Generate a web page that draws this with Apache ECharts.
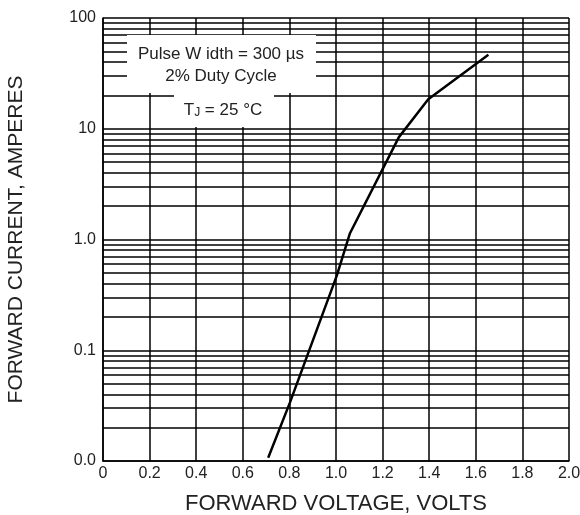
<!DOCTYPE html>
<html>
<head>
<meta charset="utf-8">
<script src="https://cdn.jsdelivr.net/npm/echarts@6/dist/echarts.min.js"></script>
<style>
html,body{margin:0;padding:0;background:#fff;}
#chart{width:580px;height:515px;}
</style>
</head>
<body>
<div id="chart"></div>
<script>
// ---- data ----
const voltage = [0.709, 0.803, 1.003, 1.06, 1.27, 1.396, 1.654];
const current = [0.0107, 0.034, 0.47, 1.14, 8.4, 18.5, 46.5];

const xTickValues = [0, 0.2, 0.4, 0.6, 0.8, 1.0, 1.2, 1.4, 1.6, 1.8, 2.0];
const xTickLabels = ['0', '0.2', '0.4', '0.6', '0.8', '1.0', '1.2', '1.4', '1.6', '1.8', '2.0'];
const yTickValues = [0.01, 0.1, 1, 10, 100];
const yTickLabels = ['0.0', '0.1', '1.0', '10', '100'];
const yDecades = [0.01, 0.1, 1, 10];
const yMinorMultipliers = [2, 3, 4, 5, 6, 7, 8, 9];

const noteLines = ['Pulse W idth = 300 \u00b5s', '2% Duty Cycle'];
const noteTemp = '{t|T}{s|J}{t| = 25 \u00b0C}';
const xTitle = 'FORWARD VOLTAGE, VOLTS';
const yTitle = 'FORWARD CURRENT, AMPERES';

// ---- build ----
const curve = voltage.map((v, i) => [v, current[i]]);
const minorGrid = [];
yDecades.forEach(d => yMinorMultipliers.forEach(m => minorGrid.push({ yAxis: +(d * m).toPrecision(3) })));

function lookup(values, labels, v) {
  for (let i = 0; i < values.length; i++) {
    if (Math.abs(values[i] - v) < 1e-6 * Math.max(1, Math.abs(v))) return labels[i];
  }
  return '';
}

const FONT = "'Liberation Sans', Arial, Helvetica, sans-serif";
const chart = echarts.init(document.getElementById('chart'), null, { renderer: 'canvas' });

chart.setOption({
  animation: false,
  backgroundColor: '#fff',
  textStyle: { fontFamily: FONT },
  grid: { left: 103, right: 11, top: 18, bottom: 54, containLabel: false, outerBoundsMode: 'none' },
  xAxis: {
    type: 'value', min: 0, max: 2, interval: 0.2,
    name: xTitle, nameLocation: 'middle', nameGap: 32,
    nameTextStyle: { fontSize: 22, color: '#222', fontFamily: FONT },
    axisLine: { show: true, lineStyle: { color: '#000', width: 1.5 } },
    axisTick: { show: false },
    splitLine: { show: true, lineStyle: { color: '#000', width: 1.5 } },
    axisLabel: {
      fontSize: 16, color: '#222', margin: 5, fontFamily: FONT,
      formatter: v => lookup(xTickValues, xTickLabels, v)
    }
  },
  yAxis: {
    type: 'log', logBase: 10, min: 0.01, max: 100,
    name: yTitle, nameLocation: 'middle', nameGap: 76, nameRotate: 90,
    nameTextStyle: { fontSize: 21, color: '#222', fontFamily: FONT },
    axisLine: { show: true, lineStyle: { color: '#000', width: 1.5 } },
    axisTick: { show: false },
    splitLine: { show: true, lineStyle: { color: '#000', width: 1.5 } },
    axisLabel: {
      fontSize: 16, color: '#222', margin: 7, fontFamily: FONT,
      formatter: v => lookup(yTickValues, yTickLabels, v)
    }
  },
  series: [{
    type: 'line',
    data: curve,
    symbol: 'none',
    smooth: false,
    lineStyle: { color: '#000', width: 2.5 },
    z: 5,
    markLine: {
      silent: true,
      symbol: ['none', 'none'],
      label: { show: false },
      lineStyle: { color: '#000', width: 1.5, type: 'solid' },
      emphasis: { disabled: true },
      data: minorGrid
    }
  }],
  graphic: [
    { type: 'rect', z: 100, shape: { x: 127, y: 35, width: 189, height: 58 }, style: { fill: '#fff' } },
    { type: 'rect', z: 100, shape: { x: 174, y: 93, width: 100, height: 34 }, style: { fill: '#fff' } },
    { type: 'text', z: 101, x: 221, y: 54, style: { text: noteLines[0], font: "17px " + FONT, fill: '#222', align: 'center', verticalAlign: 'middle' } },
    { type: 'text', z: 101, x: 221, y: 76, style: { text: noteLines[1], font: "17px " + FONT, fill: '#222', align: 'center', verticalAlign: 'middle' } },
    { type: 'text', z: 101, x: 223, y: 110, style: {
        text: noteTemp, align: 'center', verticalAlign: 'middle', fill: '#222',
        rich: {
          t: { fontSize: 17, fontFamily: FONT, fill: '#222', color: '#222' },
          s: { fontSize: 12, fontFamily: FONT, fill: '#222', color: '#222', padding: [6, 0, 0, 0] }
        }
      } }
  ]
});
</script>
</body>
</html>
